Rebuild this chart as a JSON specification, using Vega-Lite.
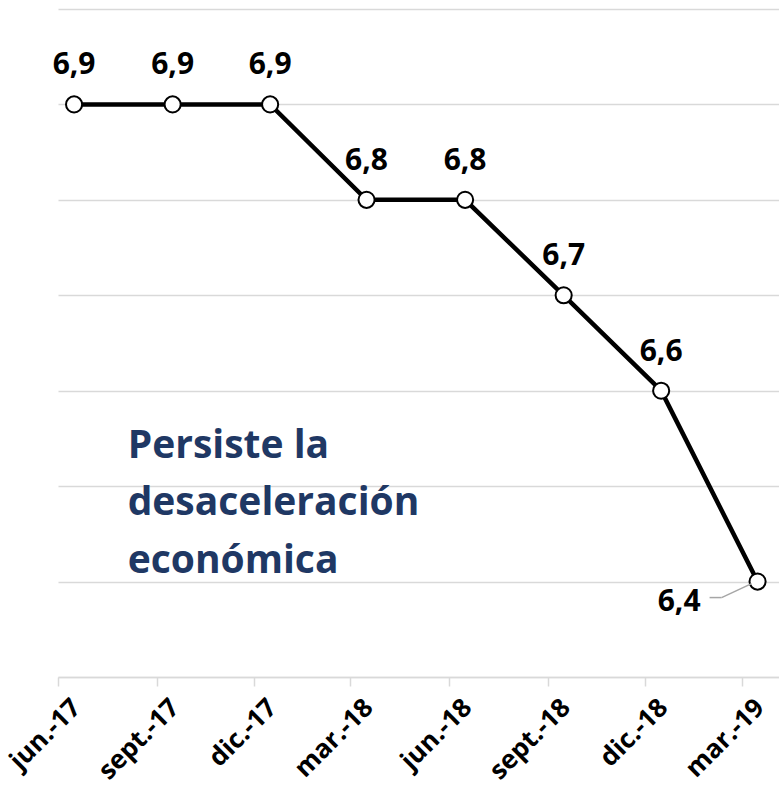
{
  "$schema": "https://vega.github.io/schema/vega-lite/v6.json",
  "autosize": {"type": "none"},
  "width": 721,
  "height": 668,
  "padding": {"left": 58, "top": 9, "right": 0, "bottom": 109},
  "background": "white",
  "config": {
    "view": {"stroke": null},
    "locale": {"number": {"decimal": ",", "thousands": ".", "grouping": [3], "currency": ["", " €"]}}
  },
  "datasets": {
    "serie": [
      {"fecha": "2017-06-16", "valor": 6.9},
      {"fecha": "2017-09-16", "valor": 6.9},
      {"fecha": "2017-12-16", "valor": 6.9},
      {"fecha": "2018-03-16", "valor": 6.8},
      {"fecha": "2018-06-16", "valor": 6.8},
      {"fecha": "2018-09-16", "valor": 6.7},
      {"fecha": "2018-12-16", "valor": 6.6},
      {"fecha": "2019-03-16", "valor": 6.4}
    ],
    "nota": [
      {"fecha": "2017-08-05", "valor": 6.53, "texto": "Persiste la|desaceleración|económica"}
    ]
  },
  "encoding": {
    "x": {
      "field": "fecha", "type": "temporal",
      "scale": {"type": "utc", "domain": [{"year": 2017, "month": 6, "date": 1, "utc": true}, {"year": 2019, "month": 4, "date": 5, "utc": true}]},
      "axis": {
        "title": null, "grid": false,
        "values": [
          {"year": 2017, "month": 6, "date": 1, "utc": true},
          {"year": 2017, "month": 9, "date": 1, "utc": true},
          {"year": 2017, "month": 12, "date": 1, "utc": true},
          {"year": 2018, "month": 3, "date": 1, "utc": true},
          {"year": 2018, "month": 6, "date": 1, "utc": true},
          {"year": 2018, "month": 9, "date": 1, "utc": true},
          {"year": 2018, "month": 12, "date": 1, "utc": true},
          {"year": 2019, "month": 3, "date": 1, "utc": true}
        ],
        "labelExpr": "(utcmonth(datum.value)==5?'jun.':utcmonth(datum.value)==8?'sept.':utcmonth(datum.value)==11?'dic.':'mar.') + '-' + utcFormat(datum.value,'%y')",
        "labelAngle": -45, "labelAlign": "right", "labelBaseline": "middle",
        "labelFont": "Open Sans", "labelFontWeight": "bold", "labelFontSize": 26, "labelColor": "#000000",
        "labelOffset": 18, "labelPadding": 17,
        "tickSize": 9, "tickColor": "#d9d9d9", "tickWidth": 1.5,
        "domainColor": "#d9d9d9", "domainWidth": 1.5,
        "labelOverlap": false, "labelBound": false, "labelFlush": false
      }
    },
    "y": {
      "field": "valor", "type": "quantitative",
      "scale": {"domain": [6.3, 7.0], "zero": false, "nice": false},
      "axis": {
        "title": null, "domain": false, "ticks": false, "labels": false,
        "grid": true, "gridColor": "#d9d9d9", "gridWidth": 1.5,
        "values": [6.3, 6.4, 6.5, 6.6, 6.7, 6.8, 6.9, 7.0]
      }
    }
  },
  "layer": [
    {
      "data": {"name": "serie"},
      "mark": {"type": "line", "color": "#000000", "strokeWidth": 4.5}
    },
    {
      "data": {"name": "serie"},
      "mark": {"type": "point", "shape": "circle", "filled": true, "fill": "#ffffff", "stroke": "#000000", "strokeWidth": 2, "size": 260, "opacity": 1}
    },
    {
      "data": {"name": "serie"},
      "transform": [{"filter": "datum.valor > 6.45"}],
      "mark": {"type": "text", "font": "Open Sans", "fontWeight": "bold", "fontSize": 30, "color": "#000000", "align": "center", "baseline": "alphabetic", "dy": -30},
      "encoding": {"text": {"field": "valor", "type": "quantitative", "format": ".1f"}}
    },
    {
      "data": {"name": "serie"},
      "transform": [{"filter": "datum.valor < 6.45"}],
      "mark": {"type": "text", "font": "Open Sans", "fontWeight": "bold", "fontSize": 30, "color": "#000000", "align": "right", "baseline": "alphabetic", "dx": -57, "dy": 29},
      "encoding": {"text": {"field": "valor", "type": "quantitative", "format": ".1f"}}
    },
    {
      "data": {"name": "serie"},
      "transform": [{"filter": "datum.valor < 6.45"}],
      "mark": {"type": "rule", "color": "#a6a6a6", "strokeWidth": 1.5, "xOffset": -6, "yOffset": 2, "x2Offset": -36, "y2Offset": 16},
      "encoding": {"x2": {"field": "fecha"}, "y2": {"field": "valor"}}
    },
    {
      "data": {"name": "serie"},
      "transform": [{"filter": "datum.valor < 6.45"}],
      "mark": {"type": "rule", "color": "#a6a6a6", "strokeWidth": 1.5, "xOffset": -36, "yOffset": 16, "x2Offset": -48, "y2Offset": 16},
      "encoding": {"x2": {"field": "fecha"}, "y2": {"field": "valor"}}
    },
    {
      "data": {"name": "nota"},
      "mark": {"type": "text", "font": "Open Sans", "fontWeight": "bold", "fontSize": 39, "color": "#1f3864", "align": "left", "baseline": "alphabetic", "lineBreak": "|", "lineHeight": 57.5},
      "encoding": {"text": {"field": "texto"}}
    }
  ]
}
